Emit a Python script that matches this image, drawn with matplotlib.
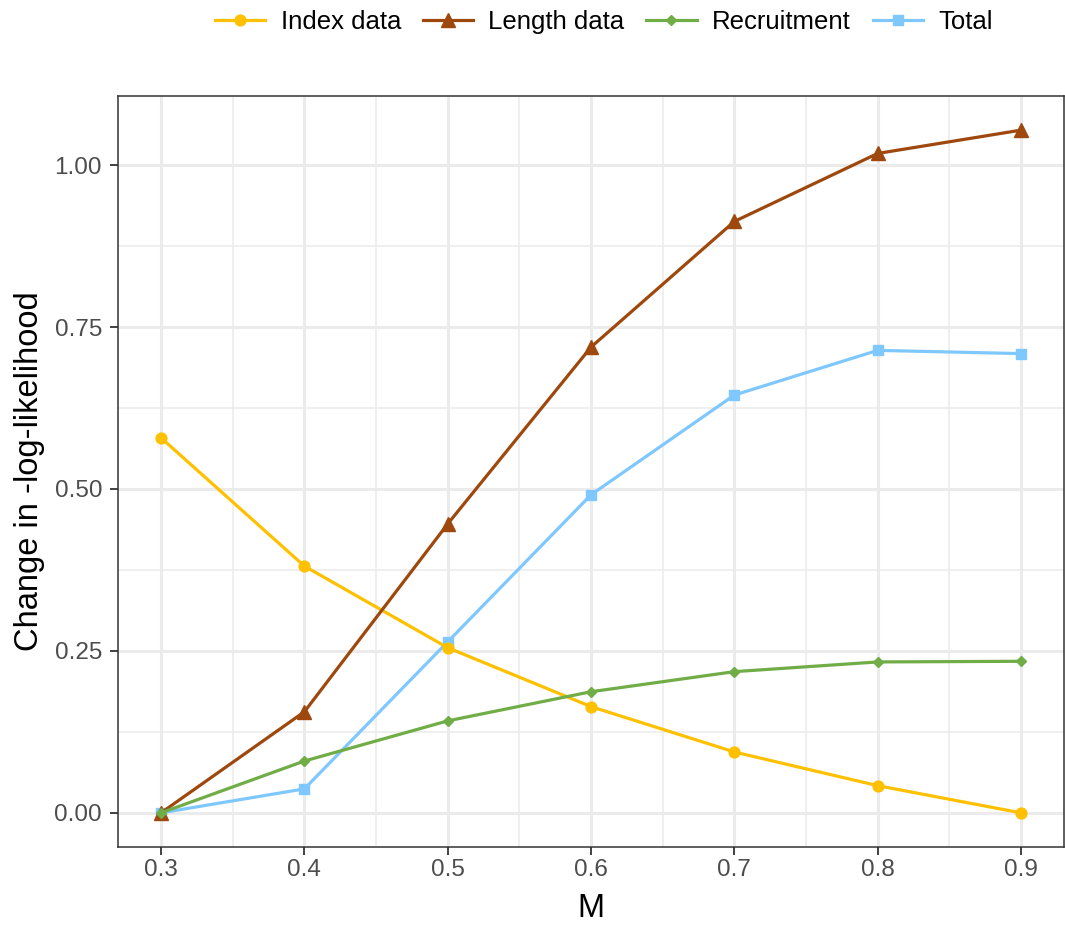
import numpy as np
import matplotlib.pyplot as plt
from matplotlib.ticker import MultipleLocator

plt.rcParams['font.family'] = ['Liberation Sans', 'DejaVu Sans']

# --- datos ---
M = [0.3, 0.4, 0.5, 0.6, 0.7, 0.8, 0.9]
index_data = [0.579, 0.381, 0.255, 0.164, 0.094, 0.042, 0.0]
length_data = [0.0, 0.156, 0.446, 0.719, 0.913, 1.018, 1.054]
recruitment = [0.0, 0.080, 0.142, 0.187, 0.218, 0.233, 0.234]
total = [0.0, 0.037, 0.264, 0.491, 0.645, 0.714, 0.709]

c_index = '#FFC000'
c_length = '#9E480E'
c_recr = '#70AD47'
c_total = '#7FC8FF'

fig = plt.figure(figsize=(10.65, 9.25), dpi=100)
ax = fig.add_axes([118 / 1065, 78 / 925, 946 / 1065, 751 / 925])

ax.plot(M, total, color=c_total, marker='s', ms=7.8, lw=2.3, label='Total', zorder=3)
ax.plot(M, index_data, color=c_index, marker='o', ms=7.8, lw=2.3, label='Index data', zorder=4)
ax.plot(M, length_data, color=c_length, marker='^', ms=10, lw=2.3, label='Length data', zorder=5)
ax.plot(M, recruitment, color=c_recr, marker='D', ms=4.8, lw=2.3, label='Recruitment', zorder=6)

ax.set_xlim(0.27, 0.93)
ax.set_ylim(-0.0527, 1.1067)
ax.xaxis.set_minor_locator(MultipleLocator(0.05))
ax.yaxis.set_minor_locator(MultipleLocator(0.125))
ax.set_xticks(M)
ax.set_xticklabels(['%.1f' % m for m in M])
ax.set_yticks([0, 0.25, 0.5, 0.75, 1.0])
ax.set_yticklabels(['0.00', '0.25', '0.50', '0.75', '1.00'])

ax.grid(which='major', color='#EBEBEB', lw=2.2, zorder=0)
ax.grid(which='minor', color='#EBEBEB', lw=1.1, zorder=0)
ax.set_axisbelow(True)
ax.tick_params(which='major', length=5.5, width=1.3, color='#333333',
               labelcolor='#4D4D4D', labelsize=17.5)
ax.tick_params(axis='x', pad=3)
ax.tick_params(axis='y', pad=6)
ax.tick_params(which='minor', length=0)
for s in ax.spines.values():
    s.set_color('#333333')
    s.set_linewidth(1.1)

ax.set_xlabel('M', fontsize=23.5, labelpad=9)
ax.set_ylabel('Change in -log-likelihood', fontsize=23.5, labelpad=7)

h, l = ax.get_legend_handles_labels()
order = [1, 2, 3, 0]
fig.legend([h[i] for i in order], [l[i] for i in order], loc='upper center',
           bbox_to_anchor=(0.567, 1.014), ncol=4, frameon=False, fontsize=18.5,
           handlelength=1.95, columnspacing=0.85, handletextpad=0.6)

fig.savefig('out.png', dpi=100)
